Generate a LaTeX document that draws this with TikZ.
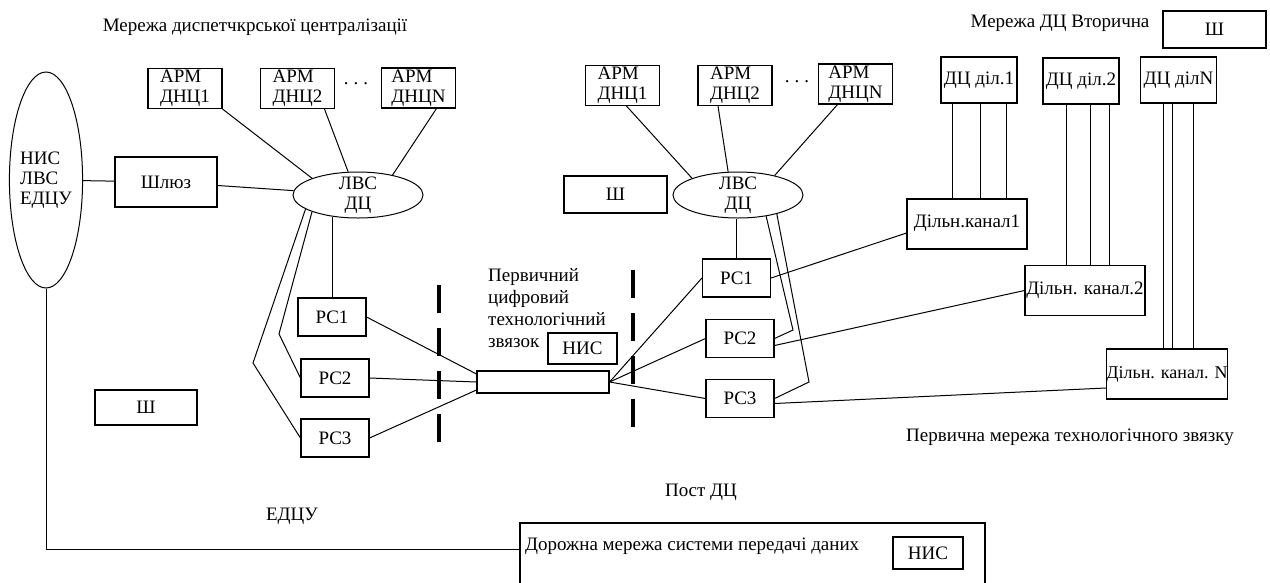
\documentclass[tikz,border=0pt]{standalone}
\usepackage{fontspec}
\setmainfont{Liberation Serif}
\usetikzlibrary{shapes.geometric,calc}
\tikzset{
  blk/.style={draw,line width=1.1pt,inner sep=0pt,align=center},
  arm/.style={blk,minimum width=74pt,minimum height=40pt,align=left},
  rc/.style={blk,minimum width=68pt,minimum height=38pt},
  shbox/.style={blk,minimum width=103pt,minimum height=37pt},
  lvs/.style={draw,line width=1pt,ellipse,inner sep=-3pt,minimum width=130pt,
    minimum height=46pt,align=center},
  dil/.style={blk,minimum width=76pt,minimum height=46pt},
  kanal/.style={blk,minimum width=120pt,minimum height=50pt},
  link/.style={line width=1pt},
  cut/.style={line width=4pt,dash pattern=on 28pt off 15pt}
}

\begin{document}
\begin{tikzpicture}[x=1pt,y=-1pt,font=\fontsize{19}{20}\selectfont]
  \useasboundingbox (0,0) rectangle (1270,582);

  % ЕДЦУ side
  \node (ttlA) at (255,27) {Мережа диспетчкрської централізації};
  \node[draw,line width=1pt,ellipse,inner sep=0pt,minimum width=68pt,minimum height=216pt,
        align=left] (nisA) at (46,180) {НИС\\ЛВС\\ЕДЦУ};
  \node[blk,minimum width=102pt,minimum height=50pt] (shluz) at (166,182) {Шлюз};
  \node[arm] (armA1) at (185,88.5) {АРМ\\ДНЦ1};
  \node[arm] (armA2) at (297.5,88.5) {АРМ\\ДНЦ2};
  \node[arm] (armAN) at (418.5,88) {АРМ\\ДНЦN};
  \node (dotsA) at (356,84) {.\hspace{5pt}.\hspace{5pt}.};
  \node[lvs] (lvsA) at (358,195) {ЛВС\\ДЦ};
  \node[rc] (rcA1) at (332,317) {РС1};
  \node[rc] (rcA2) at (335,378) {РС2};
  \node[rc] (rcA3) at (335,438) {РС3};
  \node[shbox,minimum width=102pt,minimum height=35pt] (shA) at (146,407.5) {Ш};
  \coordinate (bendA2) at (279,334);
  \coordinate (bendA3) at (253,363);

  \draw[link] (nisA) -- (shluz);
  \draw[link] (shluz) -- (lvsA);
  \draw[link] (armA1.south east) -- (lvsA.160);
  \draw[link] ([xshift=27pt]armA2.south) -- (lvsA.113);
  \draw[link] ([xshift=18pt]armAN.south) -- (lvsA.30);
  \draw[link] (rcA1.north) -- (rcA1.north |- lvsA.222);
  \draw[link] (lvsA.200) -- (bendA2) -- (rcA2.west);
  \draw[link] (lvsA.195) -- (bendA3) -- (rcA3.west);

  % primary digital link
  \node[blk,minimum width=132pt,minimum height=22pt] (pcz) at (543,382) {};
  \node[anchor=north west,inner sep=0pt,align=left,font=\fontsize{19}{22}\selectfont]
       (pczTxt) at (488,268) {Первичний\\цифровий\\технологічний\\звязок};
  \node[blk,minimum width=69pt,minimum height=31pt] (nisB) at (582.5,348.5) {НИС};
  \draw[cut] (439,285) -- (439,442);
  \draw[cut] (633,270) -- (633,427);

  \draw[link] (rcA1.east) -- ([yshift=8pt]pcz.west);
  \draw[link] (rcA2.east) -- (pcz.west);
  \draw[link] (rcA3.east) -- ([yshift=-8pt]pcz.west);

  % Пост ДЦ
  \node[arm] (armB1) at (622.5,85.5) {АРМ\\ДНЦ1};
  \node[arm] (armB2) at (735,85.5) {АРМ\\ДНЦ2};
  \node[arm] (armBN) at (855.5,84) {АРМ\\ДНЦN};
  \node (dotsB) at (797,82) {.\hspace{5pt}.\hspace{5pt}.};
  \node[shbox] (shB) at (615.5,194.5) {Ш};
  \node[lvs] (lvsB) at (738,195) {ЛВС\\ДЦ};
  \node[rc] (rcB1) at (736.5,278) {РС1};
  \node[rc] (rcB2) at (740,338.5) {РС2};
  \node[rc] (rcB3) at (740,398.5) {РС3};
  \coordinate (bendB2) at (793,330);
  \coordinate (bendB3) at (809,382);

  \draw[link] ([xshift=4pt]armB1.south) -- (lvsB.160);
  \draw[link] ([xshift=-17pt]armB2.south) -- (lvsB.113);
  \draw[link] ([xshift=-18pt]armBN.south) -- (lvsB.28);
  \draw[link] (rcB1.north) -- (rcB1.north |- lvsB.south);
  \draw[link] (lvsB.323) -- (bendB2) -- (rcB2.east);
  \draw[link] (lvsB.334) -- (bendB3) -- (rcB3.east);
  \draw[link] (pcz.east) -- (rcB1.west);
  \draw[link] (pcz.east) -- (rcB2.west);
  \draw[link] (pcz.east) -- (rcB3.west);

  % secondary network
  \node (ttlB) at (1060,23) {Мережа ДЦ Вторична};
  \node[shbox] (shC) at (1214.5,29.5) {Ш};
  \node[dil] (dil1) at (979,80) {ДЦ діл.1};
  \node[dil] (dil2) at (1081,81) {ДЦ діл.2};
  \node[dil] (dilN) at (1178.5,80) {ДЦ дiлN};
  \node[kanal] (kan1) at (967,224) {\raisebox{6pt}{Дільн.канал1}};
  \node[kanal] (kan2) at (1085,290.5) {Дільн. канал.2};
  \node[kanal,font=\fontsize{18}{20}\selectfont] (kanN) at (1167,374) {Дільн. канал. N};
  \node (ttlC) at (1070,437) {Первична мережа технологічного звязку};

  \foreach \x in {952,980,1006} \draw[link] (\x,0 |- dil1.south) -- (\x,0 |- kan1.north);
  \foreach \x in {1066,1090,1109} \draw[link] (\x,0 |- dil2.south) -- (\x,0 |- kan2.north);
  \foreach \x in {1163,1172,1193} \draw[link] (\x,0 |- dilN.south) -- (\x,0 |- kanN.north);

  \draw[link] (rcB1.east) -- ([yshift=-9pt]kan1.west);
  \draw[link] ([yshift=-7pt]rcB2.east) -- (kan2.west);
  \draw[link] ([yshift=-5pt]rcB3.east) -- ([yshift=-14pt]kanN.west);

  % road data network
  \node (postDC) at (701,492) {Пост ДЦ};
  \node (edcu) at (292,516) {ЕДЦУ};
  \node[blk,minimum width=465pt,minimum height=80pt] (drm) at (752.5,563) {};
  \node[anchor=north west,inner sep=0pt] (drmTxt) at (525,538)
       {Дорожна мережа системи передачі даних};
  \node[blk,minimum width=70pt,minimum height=32pt] (nisC) at (928,553) {НИС};
  \draw[link] (nisA.south) |- ([yshift=14pt]drm.west);
\end{tikzpicture}
\end{document}
